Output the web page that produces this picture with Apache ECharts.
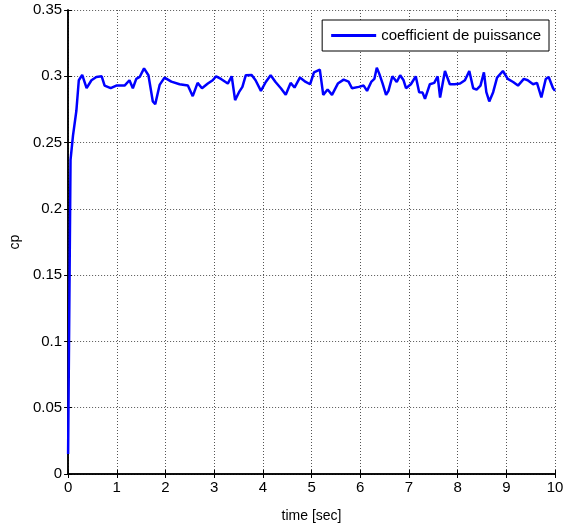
<!DOCTYPE html>
<html><head><meta charset="utf-8">
<script src="https://cdn.jsdelivr.net/npm/echarts@6/dist/echarts.min.js"></script>
<style>html,body{margin:0;padding:0;background:#fff}#c{width:570px;height:530px}</style>
</head><body><div id="c"></div>
<script>
const seriesName = 'coefficient de puissance';
const xTitle = 'time [sec]';
const yTitle = 'cp';
const timeSec = [0,0.05,0.1,0.17,0.22,0.29,0.38,0.48,0.58,0.69,0.75,0.875,0.99,1.16,1.26,1.33,1.40,1.47,1.56,1.65,1.74,1.79,1.88,1.98,2.12,2.29,2.46,2.56,2.66,2.75,2.87,2.97,3.04,3.14,3.28,3.36,3.43,3.51,3.58,3.65,3.77,3.85,3.96,4.06,4.16,4.26,4.37,4.47,4.57,4.65,4.76,4.88,4.97,5.05,5.17,5.24,5.33,5.42,5.54,5.66,5.76,5.83,5.97,6.07,6.14,6.23,6.29,6.34,6.39,6.46,6.53,6.58,6.66,6.75,6.82,6.89,6.94,7.04,7.14,7.21,7.28,7.33,7.43,7.52,7.59,7.64,7.74,7.84,7.94,8.05,8.15,8.24,8.32,8.39,8.47,8.54,8.59,8.65,8.73,8.81,8.93,9.03,9.14,9.24,9.36,9.44,9.55,9.63,9.72,9.81,9.87,9.96,10];
const cpValues = [0.015,0.237,0.255,0.274,0.297,0.301,0.291,0.297,0.2995,0.300,0.293,0.291,0.293,0.293,0.297,0.291,0.298,0.2995,0.306,0.3008,0.281,0.279,0.2935,0.299,0.296,0.294,0.293,0.285,0.295,0.291,0.2945,0.297,0.300,0.298,0.2945,0.300,0.282,0.288,0.292,0.3008,0.301,0.297,0.289,0.2957,0.3008,0.2957,0.291,0.286,0.295,0.2915,0.299,0.2957,0.294,0.303,0.305,0.286,0.290,0.286,0.2945,0.2975,0.296,0.291,0.292,0.293,0.289,0.296,0.298,0.3065,0.302,0.2945,0.286,0.289,0.300,0.2957,0.3008,0.297,0.291,0.294,0.300,0.288,0.2877,0.283,0.294,0.295,0.300,0.284,0.304,0.294,0.294,0.2945,0.297,0.304,0.291,0.290,0.293,0.303,0.288,0.281,0.288,0.299,0.304,0.298,0.2957,0.293,0.298,0.297,0.294,0.295,0.284,0.298,0.2995,0.291,0.289];
const xTicks = [0,1,2,3,4,5,6,7,8,9,10];
const yTicks = [0,0.05,0.1,0.15,0.2,0.25,0.3,0.35];

const data = timeSec.map((t, i) => [t, cpValues[i]]);
const font = 'Liberation Sans, Arial, sans-serif';
const gridLine = {show: true, lineStyle: {color: '#555', type: [1, 2], width: 1}};
const chart = echarts.init(document.getElementById('c'));
chart.setOption({
  animation: false,
  backgroundColor: '#fff',
  grid: {left: 66, right: 15, top: 10, bottom: 56, containLabel: false},
  legend: {
    data: [seriesName], right: 21, top: 20,
    orient: 'horizontal', icon: 'rect', itemWidth: 45, itemHeight: 3,
    borderColor: '#000', borderWidth: 1, padding: [8, 8, 8, 9], itemGap: 5,
    backgroundColor: '#fff',
    textStyle: {fontFamily: font, fontSize: 15, color: '#000'}
  },
  xAxis: [{
    type: 'value', min: xTicks[0], max: xTicks[xTicks.length - 1], interval: 1,
    name: xTitle, nameLocation: 'middle', nameGap: 35,
    nameTextStyle: {fontFamily: font, fontSize: 14, color: '#000'},
    axisLine: {lineStyle: {color: '#000', width: 1.5}},
    axisTick: {inside: true, length: 4, lineStyle: {color: '#000'}},
    axisLabel: {fontFamily: font, fontSize: 15, color: '#000', margin: 6},
    splitLine: gridLine
  }, {
    type: 'value', position: 'top', min: 0, max: 10, interval: 1,
    axisLine: {show: true, lineStyle: {color: '#000', width: 1.5}},
    axisTick: {inside: true, length: 4, lineStyle: {color: '#000'}},
    axisLabel: {show: false}, splitLine: {show: false}
  }],
  yAxis: [{
    type: 'value', min: yTicks[0], max: yTicks[yTicks.length - 1], interval: 0.05,
    name: yTitle, nameLocation: 'middle', nameGap: 41, nameRotate: 90,
    nameTextStyle: {fontFamily: font, fontSize: 14, color: '#000'},
    axisLine: {show: true, lineStyle: {color: '#000', width: 1.5}},
    axisTick: {show: true, inside: true, length: 4, lineStyle: {color: '#000'}},
    axisLabel: {fontFamily: font, fontSize: 15, color: '#000', margin: 6},
    splitLine: gridLine
  }, {
    type: 'value', position: 'right', min: 0, max: 0.35, interval: 0.05,
    axisLine: {show: true, lineStyle: {color: '#000', width: 1.5}},
    axisTick: {show: true, inside: true, length: 4, lineStyle: {color: '#000'}},
    axisLabel: {show: false}, splitLine: {show: false}
  }],
  series: [{
    name: seriesName, type: 'line', data: data, showSymbol: false,
    lineStyle: {color: '#0000ff', width: 2.5}, itemStyle: {color: '#0000ff'}
  }]
});
</script></body></html>
